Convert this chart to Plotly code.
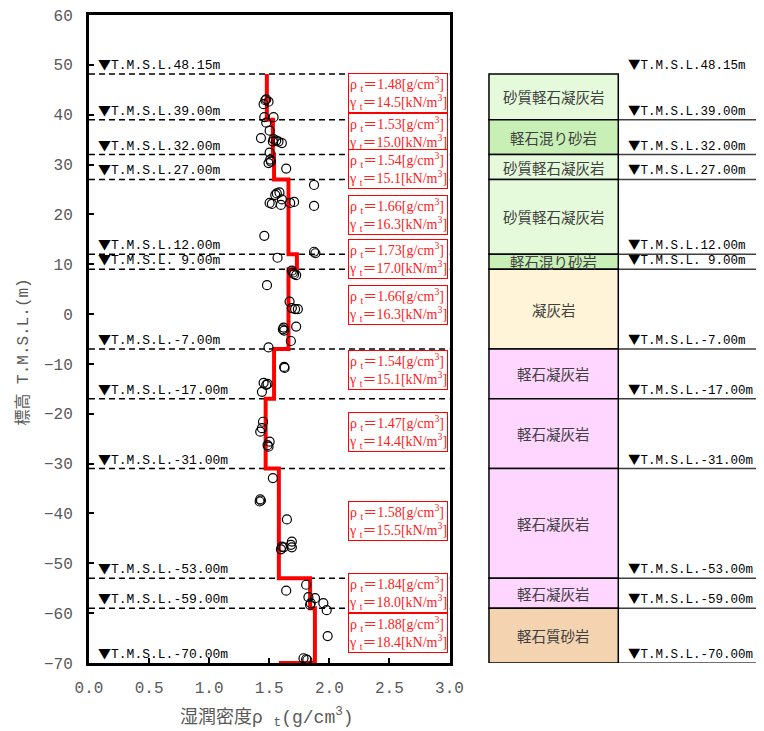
import plotly.graph_objects as go

# ---------------- data ----------------
levels = [48.15, 39.0, 32.0, 27.0, 12.0, 9.0, -7.0, -17.0, -31.0, -53.0, -59.0, -70.0]
rho_t = [1.48, 1.53, 1.54, 1.66, 1.73, 1.66, 1.54, 1.47, 1.58, 1.84, 1.88]
gamma_t = [14.5, 15.0, 15.1, 16.3, 17.0, 16.3, 15.1, 14.4, 15.5, 18.0, 18.4]
layer_names = ["砂質軽石凝灰岩", "軽石混り砂岩", "砂質軽石凝灰岩", "砂質軽石凝灰岩", "軽石混り砂岩",
               "凝灰岩", "軽石凝灰岩", "軽石凝灰岩", "軽石凝灰岩", "軽石凝灰岩", "軽石質砂岩"]
layer_colors = ["#E4FADA", "#C8F0B6", "#E4FADA", "#E4FADA", "#C8F0B6",
                "#FFF4D8", "#FFD6FF", "#FFD6FF", "#FFD6FF", "#FFD6FF", "#F3D3B0"]
step_tail_rho = 1.58  # end of the red design line along the bottom

sample_rho = [1.467, 1.494, 1.453, 1.475, 1.459, 1.536, 1.475, 1.503, 1.431,
              1.536, 1.558, 1.577, 1.605, 1.530, 1.503, 1.508, 1.494, 1.514, 1.641,
              1.873, 1.563, 1.585, 1.550, 1.605, 1.503, 1.522, 1.597, 1.674, 1.707, 1.873,
              1.459, 1.873, 1.884, 1.569, 1.688, 1.707, 1.724, 1.697,
              1.481, 1.669, 1.688, 1.715, 1.738, 1.724, 1.619, 1.624, 1.613, 1.680, 1.494,
              1.624, 1.628, 1.453, 1.475, 1.486, 1.439, 1.448, 1.439, 1.425,
              1.503, 1.486, 1.494, 1.530, 1.425, 1.431, 1.420, 1.647,
              1.688, 1.680, 1.605, 1.597, 1.619, 1.688,
              1.641, 1.807, 1.826, 1.881, 1.840, 1.845, 1.950, 1.978, 1.986,
              1.785, 1.807, 1.817]
sample_elev = [42.9, 42.6, 42.1, 43.1, 39.5, 39.5, 38.4, 36.8, 35.3,
               35.1, 34.8, 34.6, 34.3, 34.6, 32.4, 31.0, 30.3, 30.6, 29.2,
               25.9, 24.2, 24.4, 23.9, 23.0, 22.3, 22.1, 21.9, 22.3, 22.5, 21.7,
               15.7, 12.5, 12.2, 11.3, 8.7, 8.0, 7.8, 8.3,
               5.8, 2.5, 1.2, 1.0, 1.0, -2.5, -2.7, -3.3, -3.05, -5.4, -6.7,
               -10.6, -10.8, -13.8, -14.2, -14.0, -15.6, -21.6, -22.9, -23.6,
               -25.6, -26.3, -26.6, -32.9, -37.15, -37.4, -37.6, -41.2,
               -45.65, -46.3, -46.66, -47.2, -46.8, -46.8,
               -55.5, -54.3, -56.8, -57.0, -58.35, -58.0, -58.0, -59.4, -64.6,
               -69.05, -69.25, -69.4]

x_ticks = [0.0, 0.5, 1.0, 1.5, 2.0, 2.5, 3.0]
y_ticks = list(range(-70, 61, 10))

# ---------------- style / layout constants ----------------
W, H = 768, 723
ML, MR, MT = 81, 0, 7
PLOT_W, PLOT_H = 368, 648
MB = H - MT - PLOT_H
PW = W - ML - MR
PLOT_RIGHT = PLOT_W / PW
COL_L = (489.3 - ML) / PW
COL_M = (621.3 - ML) / PW
COL_R = (765.5 - ML) / PW
LBL_R = (629.0 - ML) / PW
BOX_NUDGE = [0.8, 0.8, -0.4, 0.4, 0.55, 0.8, 0.8, 0.4, 0.5, 0.1, 0.5]
MONO = "Liberation Mono, Noto Sans CJK JP"
SERIF = "Liberation Serif, Noto Sans CJK JP"
CJK = "Noto Sans CJK JP, Liberation Serif"
GREY = "#595959"
TRI = '<span style="font-family:Noto Sans CJK JP">▼</span>'

fig = go.Figure()

# step design line
sx, sy = [], []
for i, r in enumerate(rho_t):
    sx += [r, r]
    sy += [levels[i], levels[i + 1]]
sx.append(step_tail_rho)
sy.append(levels[-1])
fig.add_trace(go.Scatter(x=sx, y=sy, mode="lines", line=dict(color="#FF0000", width=4),
                         hoverinfo="skip", showlegend=False, cliponaxis=False))

fig.add_trace(go.Scatter(x=sample_rho, y=sample_elev, mode="markers",
                         marker=dict(symbol="circle-open", size=9, color="black",
                                     line=dict(width=1.2, color="black")),
                         showlegend=False))

shapes = []
annotations = []


def lvl_label(v):
    return f"{TRI}T.M.S.L.{v:5.2f}m"


for i, lv in enumerate(levels):
    if i < len(levels) - 1:
        shapes.append(dict(type="line", xref="x", yref="y", x0=0, x1=3, y0=lv, y1=lv,
                           line=dict(color="black", width=1.5, dash="6px,4px"), layer="below"))
    annotations.append(dict(xref="x", yref="y", x=0.06, y=lv, xanchor="left", yanchor="bottom",
                            text=lvl_label(lv), showarrow=False,
                            font=dict(family=MONO, size=13, color="black"), yshift=-1))
    # right side
    annotations.append(dict(xref="paper", yref="y", x=LBL_R, y=lv, xanchor="left",
                            yanchor="bottom", text=lvl_label(lv), showarrow=False,
                            font=dict(family=MONO, size=12.5, color="black"), yshift=-1))
    if i > 0:
        shapes.append(dict(type="line", xref="paper", yref="y", x0=COL_M, x1=COL_R, y0=lv, y1=lv,
                           line=dict(color="#404040", width=1.5)))

for i, name in enumerate(layer_names):
    top, bot = levels[i], levels[i + 1]
    mid = (top + bot) / 2
    shapes.append(dict(type="rect", xref="paper", yref="y", x0=COL_L, x1=COL_M, y0=bot, y1=top,
                       fillcolor=layer_colors[i], line=dict(color="black", width=1.5)))
    annotations.append(dict(xref="paper", yref="y", x=(COL_L + COL_M) / 2, y=mid,
                            xanchor="center", yanchor="middle",
                            text=name, showarrow=False,
                            font=dict(family=CJK, size=14.5, color="#404040")))
    annotations.append(dict(xref="x", yref="y", x=2.985, y=mid + BOX_NUDGE[i], xanchor="right",
                            yanchor="middle", align="left", showarrow=False,
                            text=(f"ρ <sub>t</sub>＝{rho_t[i]:.2f}[g/cm<sup>3</sup>]<br>"
                                  f"γ <sub>t</sub>＝{gamma_t[i]:.1f}[kN/m<sup>3</sup>]"),
                            font=dict(family=SERIF, size=14, color="#FF2020"),
                            bordercolor="#FF0000", borderwidth=1, borderpad=0, bgcolor="white"))

annotations.append(dict(xref="paper", yref="paper", x=(14.2 - ML) / PW, y=0.48, textangle=-90,
                        xanchor="center", yanchor="middle",
                        text="標高 T.M.S.L.(m)", showarrow=False,
                        font=dict(family=MONO, size=16, color=GREY)))
annotations.append(dict(xref="paper", yref="paper", x=(263 - ML) / PW, y=-(709 - MT - PLOT_H) / PLOT_H,
                        xanchor="center", yanchor="middle",
                        text="湿潤密度ρ <sub>t</sub>(g/cm<sup>3</sup>)", showarrow=False,
                        font=dict(family=MONO, size=18, color=GREY)))

axis_common = dict(showgrid=False, zeroline=False, showline=True, linewidth=3, linecolor="black",
                   mirror=True, ticks="inside", ticklen=5, tickwidth=2, tickcolor="black",
                   ticklabeloverflow="allow",
                   tickfont=dict(family=MONO, size=16, color=GREY))

fig.update_layout(
    width=W, height=H,
    margin=dict(l=ML, r=MR, t=MT, b=MB),
    paper_bgcolor="white", plot_bgcolor="white",
    xaxis=dict(range=[0, 3], domain=[0, PLOT_RIGHT], tickvals=x_ticks, tickformat=".1f",
               ticklabelstandoff=8, **axis_common),
    yaxis=dict(range=[-70, 60], tickvals=y_ticks, ticklabelstandoff=10, **axis_common),
    shapes=shapes, annotations=annotations, showlegend=False,
)

fig.write_html("out.html")
